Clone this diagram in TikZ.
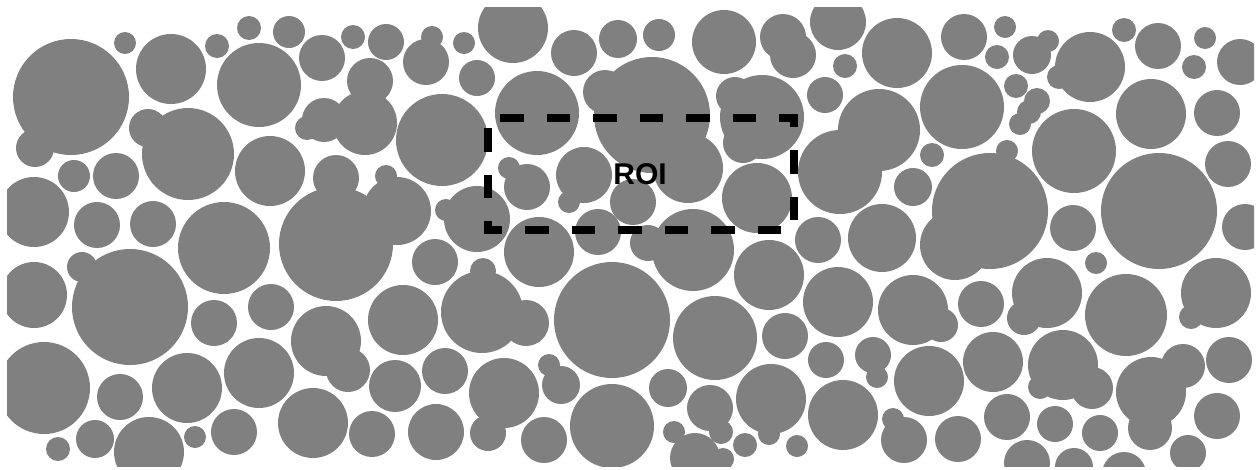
\documentclass[tikz,border=0pt]{standalone}
\usepackage{fontspec}
\setsansfont{Liberation Sans}
\definecolor{graingray}{RGB}{128,128,128}
\tikzset{
    grain/.style={fill=graingray},
    roiline/.style={draw=black, line width=8pt, line cap=butt, dash pattern=on 23.5pt off 23pt}
}

\begin{document}
\begin{tikzpicture}[x=1pt, y=-1pt]
    \useasboundingbox (0,0) rectangle (1258,469);
    \begin{scope}
    \clip (7,7) rectangle (1254,466);
    % top left
    \foreach \cx/\cy/\cr in {71/97/58, 35/148/19, 125/43/11, 171/69/35, 217/46/12, 249/28/12, 289/32/16,
        259/85/42, 322/58/23, 353/37/12, 386/42/18, 426/62/23, 432/37/11, 370/81/23, 365/123/32,
        324/120/22, 307/128/12, 442/140/46, 188/154/46, 148/128/19, 270/171/35, 74/176/16,
        116/176/23, 34/212/35, 97/225/23, 153/224/23, 224/248/46, 336/244/57, 336/178/23,
        386/176/11, 397/211/34}
        \fill[grain] (\cx,\cy) circle (\cr pt);
    % top middle
    \foreach \cx/\cy/\cr in {464/43/11, 513/28/35, 477/78/18, 574/53/23, 618/39/19, 659/35/16, 724/42/32,
        783/37/23, 793/55/23, 838/22/28, 845/66/12, 825/95/18, 537/113/42, 652/115/58, 605/92/22,
        688/168/35, 762/117/42, 735/96/19, 743/143/20, 840/172/42, 527/187/23, 509/168/11,
        584/175/28, 569/202/11, 633/202/23, 757/198/35, 477/219/33, 446/210/11, 539/252/35,
        598/232/23, 693/250/41, 648/243/18, 818/240/23}
        \fill[grain] (\cx,\cy) circle (\cr pt);
    % top right
    \foreach \cx/\cy/\cr in {897/53/35, 964/37/23, 1005/27/11, 997/57/12, 1032/55/19, 1048/41/11,
        1090/67/35, 1059/77/12, 1124/30/12, 1158/46/23, 1205/38/11, 1194/67/12, 1240/62/23,
        962/107/42, 1016/86/12, 1037/101/13, 1029/112/12, 1020/124/11, 879/130/41, 1074/151/42,
        1151/114/35, 1217/113/23, 1228/164/23, 932/155/12, 913/187/19, 990/211/58, 955/245/35,
        1007/151/11, 1159/211/58, 1073/228/23, 1245/227/23, 882/238/34}
        \fill[grain] (\cx,\cy) circle (\cr pt);
    % bottom left
    \foreach \cx/\cy/\cr in {34/295/33, 130/307/58, 82/267/15, 214/323/23, 271/307/23, 326/341/35,
        348/370/22, 403/320/35, 44/388/46, 120/397/23, 187/388/35, 259/373/35, 395/386/26,
        445/371/23, 58/449/12, 95/439/19, 149/452/35, 195/437/11, 234/432/23, 313/423/35,
        372/434/23, 436/432/28}
        \fill[grain] (\cx,\cy) circle (\cr pt);
    % bottom middle
    \foreach \cx/\cy/\cr in {435/262/23, 482/312/41, 483/271/13, 526/323/23, 612/320/58, 715/338/42,
        769/275/35, 785/336/23, 838/302/35, 826/360/18, 504/393/35, 488/433/18, 549/365/11,
        561/385/19, 612/426/42, 544/440/23, 668/388/19, 710/408/23, 721/432/12, 674/432/11,
        695/458/25, 723/459/11, 771/399/35, 769/434/11, 745/445/12, 797/446/11, 843/415/35}
        \fill[grain] (\cx,\cy) circle (\cr pt);
    % bottom right
    \foreach \cx/\cy/\cr in {913/310/35, 941/325/17, 981/304/23, 1047/293/35, 1024/318/17, 1096/263/11,
        1126/315/41, 1216/293/35, 1191/317/12, 873/355/18, 877/377/11, 929/381/35, 993/362/30,
        1063/365/35, 1040/387/12, 1092/388/21, 1151/392/35, 1183/366/22, 1150/428/22,
        1229/360/23, 904/440/23, 893/419/11, 958/439/23, 1007/417/23, 1055/424/18, 1100/433/18,
        1217/416/23, 1188/453/18, 1027/463/23, 1074/467/19, 1124/474/22}
        \fill[grain] (\cx,\cy) circle (\cr pt);
    \end{scope}

    % region of interest
    \coordinate (roiNW) at (487.5,117.5);
    \coordinate (roiSE) at (794,230);
    \draw[roiline] (780,117.5) -- (roiNW -| roiSE) -- (roiSE) -- (roiSE -| roiNW) -- (roiNW) -- (780,117.5);
    \node[font=\sffamily\bfseries\fontsize{30}{30}\selectfont, inner sep=0pt] (roi) at (640,174) {ROI};
\end{tikzpicture}
\end{document}
